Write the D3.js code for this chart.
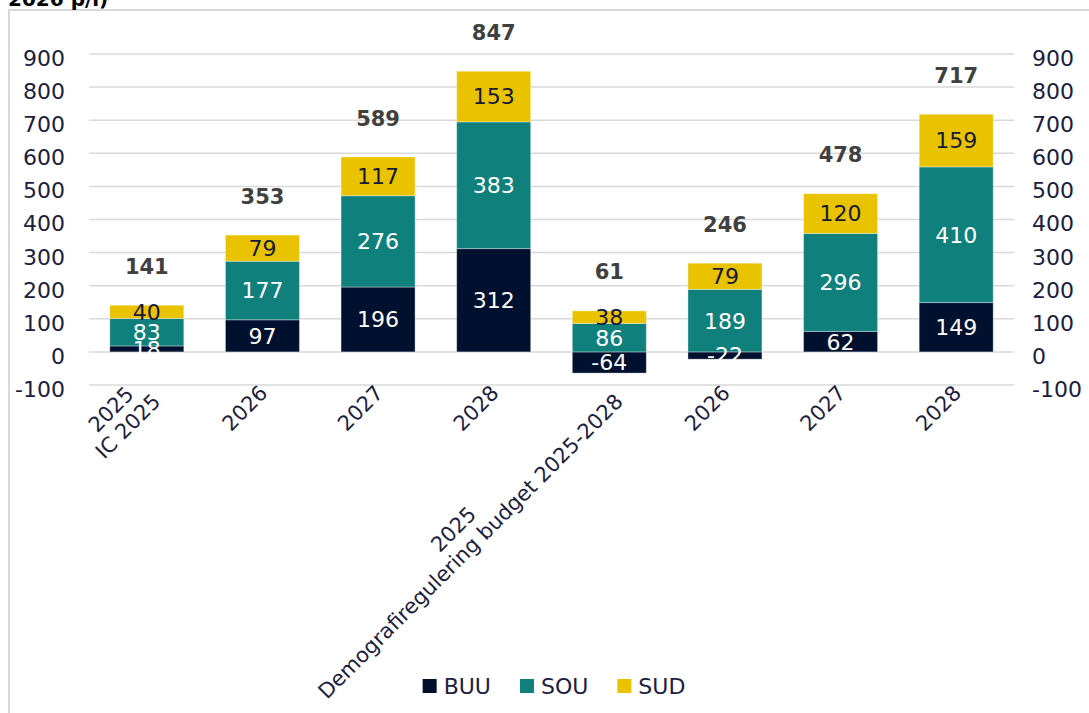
<!DOCTYPE html>
<html><head><meta charset="utf-8">
<script src="https://cdn.jsdelivr.net/npm/d3@7"></script>
<style>body{margin:0;background:#fff;} svg{display:block;}</style>
</head><body>
<svg id="c" width="1089" height="713"></svg>
<script>
// ---- data ----
const categoryLines = [["2025","IC 2025"],["2026"],["2027"],["2028"],["2025","Demografiregulering budget 2025-2028"],["2026"],["2027"],["2028"]];
const seriesNames = ["BUU","SOU","SUD"];
const buu = [18, 97, 196, 312, -64, -22, 62, 149];
const sou = [83, 177, 276, 383, 86, 189, 296, 410];
const sud = [40, 79, 117, 153, 38, 79, 120, 159];
const totals = [141, 353, 589, 847, 61, 246, 478, 717];
const yTicks = [-100, 0, 100, 200, 300, 400, 500, 600, 700, 800, 900];
const titleText = "2026 p/i)";

// ---- styles ----
const colors = {BUU:"#00102f", SOU:"#0f807b", SUD:"#eac300"};
const labelColors = {BUU:"#ffffff", SOU:"#ffffff", SUD:"#151a38"};
const textColor = "#1b2040";
const FONT = "'DejaVu Sans', sans-serif";

const svg = d3.select("#c");
const W = 1089, H = 713;
const plot = {left: 89, right: 1014, top: 54, bottom: 385};

// frame
svg.append("path").attr("d", `M9,${H} V10 H${W}`).attr("fill","none").attr("stroke","#d9d9d9").attr("stroke-width",2);
// cut-off title
svg.append("text").attr("x",8).attr("y",6).text(titleText)
  .attr("font-family",FONT).attr("font-weight","bold").attr("font-size",20).attr("fill","#000");

const table = categoryLines.map((c,i)=>({i, BUU:buu[i], SOU:sou[i], SUD:sud[i]}));
const x = d3.scaleBand().domain(d3.range(categoryLines.length)).range([plot.left, plot.right]).paddingInner(0.36).paddingOuter(0.18);
const y = d3.scaleLinear().domain([-100, 900]).range([plot.bottom, plot.top]);

// gridlines
svg.append("g").selectAll("line").data(yTicks).join("line")
  .attr("x1",plot.left).attr("x2",plot.right)
  .attr("y1",d=>y(d)).attr("y2",d=>y(d))
  .attr("stroke","#d9d9d9").attr("stroke-width",1.5);

// axes
function styleAxis(g, anchor){
  g.select(".domain").remove();
  g.selectAll(".tick line").remove();
  g.selectAll(".tick text").attr("font-family",FONT).attr("font-size",22).attr("fill",textColor)
    .attr("dy","0.52em").attr("text-anchor",anchor);
}
svg.append("g").attr("transform","translate(65,0)")
  .call(d3.axisLeft(y).tickValues(yTicks).tickSize(0).tickPadding(0).tickFormat(d=>String(d)))
  .call(g=>styleAxis(g,"end"));
svg.append("g").attr("transform","translate(1032,0)")
  .call(d3.axisRight(y).tickValues(yTicks).tickSize(0).tickPadding(0).tickFormat(d=>String(d)))
  .call(g=>styleAxis(g,"start"));

// stacks
const stack = d3.stack().keys(seriesNames).offset(d3.stackOffsetDiverging);
const series = stack(table);

const barsG = svg.append("g");
series.forEach(s=>{
  barsG.append("g").selectAll("rect").data(s).join("rect")
    .attr("x",(d,i)=>x(i)).attr("width",x.bandwidth())
    .attr("y",d=>y(Math.max(d[0],d[1]))).attr("height",d=>Math.abs(y(d[0])-y(d[1])))
    .attr("fill",colors[s.key]).attr("stroke","#ffffff").attr("stroke-opacity",0.35).attr("stroke-width",1);
});
// segment labels
series.forEach(s=>{
  barsG.append("g").selectAll("text").data(s).join("text")
    .attr("x",(d,i)=>x(i)+x.bandwidth()/2)
    .attr("y",d=>y((d[0]+d[1])/2))
    .attr("dy","0.36em")
    .attr("text-anchor","middle")
    .attr("font-family",FONT).attr("font-size",22)
    .attr("fill",labelColors[s.key])
    .text(d=>String(d.data[s.key]));
});

// totals
const topOf = i => d3.max(series, s=>Math.max(s[i][0], s[i][1]));
svg.append("g").selectAll("text").data(totals).join("text")
  .attr("x",(d,i)=>x(i)+x.bandwidth()/2)
  .attr("y",(d,i)=>y(topOf(i)) - 39)
  .attr("dy","0.36em")
  .attr("text-anchor","middle")
  .attr("font-family",FONT).attr("font-weight","bold").attr("font-size",21)
  .attr("fill","#404040")
  .text(d=>d);

// x labels
const xl = svg.append("g");
categoryLines.forEach((lines,i)=>{
  const cx = x(i)+x.bandwidth()/2;
  const g = xl.append("g").attr("transform",`translate(${cx+1},389) rotate(-45)`);
  const texts = lines.map(t=>g.append("text").text(t)
    .attr("font-family",FONT).attr("font-size",21).attr("fill",textColor));
  const w = d3.max(texts, t=>t.node().getComputedTextLength());
  const n = lines.length, lh = 24;
  texts.forEach((t,j)=>t.attr("x",-w/2).attr("text-anchor","middle")
    .attr("y",(j-(n-1)/2)*lh).attr("dy","0.36em"));
});

// legend
const leg = svg.append("g");
let cur = 0;
seriesNames.forEach(k=>{
  const g = leg.append("g").attr("transform",`translate(${cur},0)`);
  g.append("rect").attr("x",0).attr("y",679).attr("width",14).attr("height",14).attr("fill",colors[k]);
  const t = g.append("text").attr("x",21).attr("y",694).text(k)
    .attr("font-family",FONT).attr("font-size",22).attr("fill",textColor);
  const w = 21 + t.node().getComputedTextLength();
  cur += w + 29;
});
const legW = cur - 29;
leg.attr("transform",`translate(${554 - legW/2},0)`);
</script>
</body></html>
